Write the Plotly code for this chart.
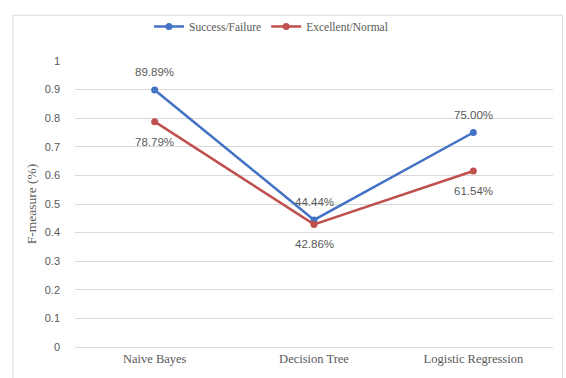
import plotly.graph_objects as go

categories = ["Naive Bayes", "Decision Tree", "Logistic Regression"]
success_failure = [0.8989, 0.4444, 0.75]
excellent_normal = [0.7879, 0.4286, 0.6154]
y_ticks = [0, 0.1, 0.2, 0.3, 0.4, 0.5, 0.6, 0.7, 0.8, 0.9, 1]
y_tick_text = ["0", "0.1", "0.2", "0.3", "0.4", "0.5", "0.6", "0.7", "0.8", "0.9", "1"]

blue = "#4472C4"
red = "#C0504D"
label_font = dict(family="Liberation Sans, Arial", size=11.5, color="#595959")

fig = go.Figure()
fig.add_trace(go.Scatter(
    x=categories, y=success_failure, name="Success/Failure",
    mode="lines+markers",
    line=dict(color=blue, width=2.5),
    marker=dict(color=blue, size=7),
))
fig.add_trace(go.Scatter(
    x=categories, y=excellent_normal, name="Excellent/Normal",
    mode="lines+markers",
    line=dict(color=red, width=2.5),
    marker=dict(color=red, size=7),
))

for c, v in zip(categories, success_failure):
    fig.add_annotation(x=c, y=v, text=f"{v*100:.2f}%", showarrow=False,
                       yshift=18, font=label_font)
for c, v in zip(categories, excellent_normal):
    fig.add_annotation(x=c, y=v, text=f"{v*100:.2f}%", showarrow=False,
                       yshift=-20, font=label_font)

fig.update_layout(
    width=566, height=378,
    margin=dict(l=75, r=13, t=53, b=29),
    paper_bgcolor="white", plot_bgcolor="white",
    showlegend=True,
    legend=dict(orientation="h", x=0.41, xanchor="center", y=1.07, yanchor="bottom",
                font=dict(family="Liberation Serif, Times New Roman", size=11.5, color="#595959"),
                bgcolor="rgba(0,0,0,0)"),
    xaxis=dict(
        type="category", showgrid=False, showline=True, linecolor="#d9d9d9", linewidth=1,
        ticks="", tickfont=dict(family="Liberation Serif, Times New Roman", size=12.5, color="#595959"),
        range=[-0.5, 2.5],
    ),
    yaxis=dict(
        range=[0, 1], tickvals=y_ticks, ticktext=y_tick_text,
        showgrid=True, gridcolor="#d9d9d9", gridwidth=1, zeroline=False,
        showline=False, ticks="", ticklabelstandoff=14,
        tickfont=dict(family="Liberation Sans, Arial", size=11, color="#595959"),
        title=dict(text="F-measure (%)", standoff=4,
                   font=dict(family="Liberation Serif, Times New Roman", size=13.5, color="#595959")),
    ),
)
fig.add_shape(type="rect", xref="paper", yref="paper", x0=-0.13, x1=1.02, y0=-0.12, y1=1.16,
              line=dict(color="#d9d9d9", width=1))

fig.write_html("out.html")
